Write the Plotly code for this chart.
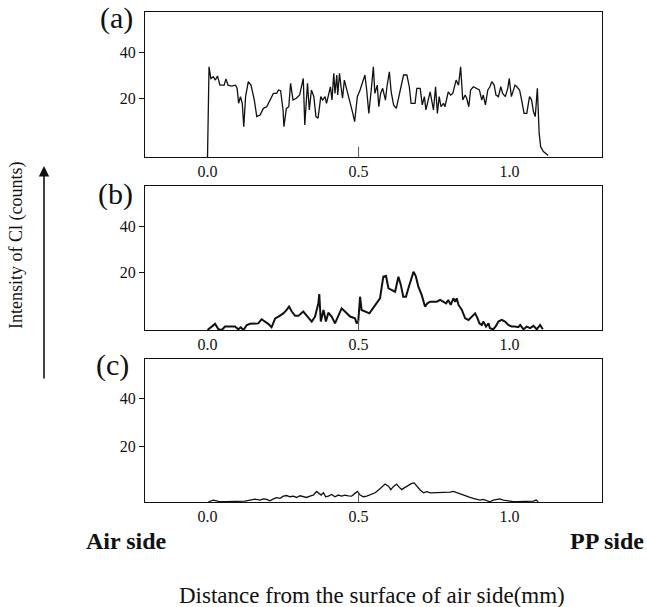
import plotly.graph_objects as go

# ---------------- data ----------------
xa = [0.000, 0.002, 0.005, 0.011, 0.019, 0.026, 0.033, 0.041, 0.055, 0.061, 0.068, 0.079, 0.093, 0.098,
      0.103, 0.109, 0.115, 0.120, 0.126, 0.135, 0.144, 0.155, 0.163, 0.174, 0.185, 0.196, 0.207, 0.218,
      0.229, 0.235, 0.242, 0.250, 0.253, 0.261, 0.269, 0.275, 0.283, 0.294, 0.305, 0.317, 0.322, 0.331,
      0.337, 0.344, 0.352, 0.359, 0.366, 0.375, 0.381, 0.389, 0.394, 0.401, 0.407, 0.412, 0.418, 0.422,
      0.428, 0.431, 0.437, 0.442, 0.447, 0.453, 0.462, 0.469, 0.481, 0.487, 0.496, 0.505, 0.513, 0.521,
      0.527, 0.534, 0.543, 0.549, 0.554, 0.562, 0.567, 0.573, 0.580, 0.589, 0.594, 0.602, 0.608, 0.616,
      0.625, 0.633, 0.640, 0.649, 0.660, 0.668, 0.674, 0.687, 0.693, 0.704, 0.711, 0.718, 0.723, 0.731,
      0.737, 0.748, 0.755, 0.761, 0.767, 0.773, 0.781, 0.786, 0.797, 0.805, 0.812, 0.823, 0.831, 0.838,
      0.845, 0.853, 0.858, 0.865, 0.871, 0.880, 0.891, 0.900, 0.908, 0.913, 0.920, 0.928, 0.935, 0.941,
      0.949, 0.955, 0.963, 0.971, 0.977, 0.986, 0.994, 0.999, 1.006, 1.013, 1.018, 1.024, 1.033, 1.040,
      1.048, 1.057, 1.066, 1.073, 1.079, 1.085, 1.092, 1.098, 1.103, 1.112, 1.128]
ya = [-5.6, 23.5, 33.6, 28.5, 29.3, 27.8, 29.6, 25.6, 25.6, 28.3, 25.6, 25.2, 25.6, 24.2,
      17.7, 20.6, 17.7, 7.5, 20.6, 27.1, 25.6, 19.1, 11.9, 12.6, 15.5, 16.2, 19.1, 22.0,
      22.0, 23.5, 23.2, 14.8, 7.5, 15.5, 16.2, 26.4, 19.1, 19.9, 21.3, 28.5, 8.3, 26.4,
      14.8, 23.5, 20.6, 11.9, 11.2, 20.6, 19.1, 20.6, 17.7, 22.0, 24.9, 19.1, 30.7, 22.0,
      30.0, 21.3, 30.7, 24.9, 19.9, 27.8, 23.5, 19.1, 13.3, 9.7, 20.6, 23.5, 26.4, 30.0,
      23.5, 13.3, 24.9, 33.6, 22.0, 25.6, 16.2, 22.0, 24.2, 19.1, 24.9, 31.4, 22.7, 17.0,
      15.5, 20.6, 25.6, 30.0, 30.0, 24.9, 17.7, 17.7, 24.2, 24.2, 17.0, 20.6, 14.8, 19.1,
      22.7, 14.8, 24.9, 13.3, 20.6, 16.2, 17.7, 16.2, 22.7, 21.3, 22.0, 27.8, 25.6, 33.6,
      19.1, 21.3, 19.9, 16.2, 23.5, 24.9, 24.2, 23.5, 19.1, 21.3, 17.0, 23.5, 24.9, 27.1,
      25.6, 21.3, 20.6, 24.9, 22.0, 20.6, 24.2, 28.5, 20.6, 23.5, 25.6, 24.9, 23.5, 19.1,
      13.3, 13.3, 20.6, 19.1, 14.1, 11.9, 24.2, 4.6, -1.2, -3.3, -5.0]

xb = [0.000, 0.014, 0.025, 0.036, 0.047, 0.058, 0.075, 0.091, 0.102, 0.110, 0.119, 0.130, 0.141, 0.157,
      0.168, 0.179, 0.190, 0.201, 0.212, 0.224, 0.235, 0.251, 0.262, 0.270, 0.279, 0.290, 0.301, 0.317,
      0.331, 0.345, 0.356, 0.367, 0.370, 0.375, 0.384, 0.392, 0.400, 0.411, 0.422, 0.433, 0.444, 0.455,
      0.472, 0.488, 0.494, 0.499, 0.505, 0.510, 0.521, 0.536, 0.544, 0.560, 0.571, 0.582, 0.591, 0.599,
      0.610, 0.621, 0.632, 0.640, 0.648, 0.657, 0.665, 0.673, 0.682, 0.690, 0.698, 0.709, 0.720, 0.728,
      0.737, 0.748, 0.759, 0.770, 0.781, 0.790, 0.797, 0.805, 0.814, 0.820, 0.825, 0.831, 0.842, 0.853,
      0.864, 0.875, 0.886, 0.894, 0.900, 0.908, 0.913, 0.922, 0.930, 0.935, 0.946, 0.955, 0.963, 0.974,
      0.985, 0.996, 1.007, 1.018, 1.029, 1.035, 1.046, 1.057, 1.068, 1.079, 1.090, 1.101, 1.110]
yb = [-5.3, -3.8, -2.6, -5.0, -5.3, -3.8, -3.8, -3.8, -5.0, -4.1, -5.3, -3.1, -2.6, -2.6,
      -2.4, -0.6, -1.6, -2.6, -4.1, -0.2, 0.6, 2.0, 3.5, 5.0, 2.8, 0.9, 0.9, 2.8,
      0.6, -1.6, 0.6, 6.4, 10.5, -1.6, 3.5, -1.6, 2.3, 0.6, -2.4, 0.6, 4.2, 2.8,
      0.6, -0.2, -2.4, -1.6, 9.3, 3.5, 2.8, 2.0, 3.5, 6.4, 8.6, 18.1, 18.4, 13.0,
      12.3, 11.5, 18.1, 14.5, 9.3, 9.3, 13.0, 16.7, 20.3, 18.1, 13.7, 10.1, 5.0, 6.4,
      7.1, 7.1, 7.1, 7.9, 7.1, 6.4, 7.9, 5.7, 8.6, 7.1, 8.6, 5.7, 3.5, -0.2,
      -0.9, 0.6, 2.0, -0.2, -2.4, -3.1, -1.6, -3.8, -2.4, -4.5, -5.0, -3.5, -1.6, -0.9,
      -1.6, -3.1, -3.8, -3.8, -4.1, -3.1, -5.0, -3.8, -4.5, -3.5, -5.0, -3.1, -5.0]

xc = [0.003, 0.019, 0.030, 0.041, 0.058, 0.069, 0.086, 0.097, 0.113, 0.124, 0.141, 0.157, 0.174, 0.185,
      0.196, 0.207, 0.218, 0.229, 0.240, 0.251, 0.262, 0.273, 0.284, 0.295, 0.306, 0.317, 0.328, 0.339,
      0.350, 0.361, 0.369, 0.376, 0.384, 0.391, 0.400, 0.411, 0.422, 0.433, 0.444, 0.455, 0.466, 0.477,
      0.488, 0.497, 0.505, 0.516, 0.527, 0.538, 0.555, 0.566, 0.577, 0.588, 0.599, 0.607, 0.615, 0.626,
      0.635, 0.643, 0.654, 0.665, 0.676, 0.684, 0.693, 0.704, 0.715, 0.726, 0.737, 0.748, 0.770, 0.781,
      0.792, 0.803, 0.814, 0.825, 0.836, 0.847, 0.858, 0.869, 0.880, 0.891, 0.902, 0.913, 0.924, 0.935,
      0.946, 0.957, 0.968, 0.979, 0.990, 1.001, 1.013, 1.024, 1.035, 1.046, 1.057, 1.068, 1.079, 1.088,
      1.095]
yc = [-3.3, -2.6, -2.9, -3.3, -3.3, -3.3, -3.3, -3.0, -3.3, -3.0, -2.6, -2.2, -2.6, -2.1,
      -2.3, -2.9, -2.1, -1.6, -1.9, -0.95, -0.7, -1.2, -0.95, -1.5, -0.8, -1.2, -1.5, -0.95,
      -0.5, 1.0, 0.2, -0.5, 0.45, -1.2, -0.95, -0.25, -1.2, -0.5, -0.95, -0.5, -0.8, -0.95,
      0.2, 1.0, -0.5, -1.2, -0.95, -0.5, 0.45, 1.6, 3.0, 4.1, 3.2, 1.8, 3.0, 4.1,
      2.7, 1.8, 2.7, 3.7, 4.4, 4.6, 3.2, 1.6, 0.45, 0.9, 0.45, 0.45, 0.45, 0.7,
      0.45, 0.7, 1.0, 0.45, 0.2, -0.5, -1.2, -1.5, -1.9, -2.3, -2.6, -2.3, -2.9, -3.3,
      -2.6, -2.3, -2.1, -2.6, -2.9, -3.0, -3.3, -3.3, -3.3, -3.2, -3.3, -3.3, -3.0, -2.6,
      -3.3]

x_tickvals = [0.0, 0.5, 1.0]
x_ticktext = ["0.0", "0.5", "1.0"]
y_tickvals = [20, 40]
panel_labels = ["(a)", "(b)", "(c)"]

# ---------------- layout helpers ----------------
W, H = 647, 607
SERIF = "Liberation Serif, Times New Roman, serif"
INK = "#111111"


def px_x(p):
    return p / W


def px_y(p):
    return 1 - p / H


x_domain = [px_x(145), px_x(602)]
x_range = [-0.207, 1.306]
panels = [
    dict(x=xa, y=ya, top=12, bottom=157, yr=[-5.65, 57.4], lw=1.3, lab=(116, 18)),
    dict(x=xb, y=yb, top=186, bottom=330, yr=[-5.3, 57.9], lw=2.0, lab=(115, 194)),
    dict(x=xc, y=yc, top=359, bottom=502, yr=[-3.4, 56.4], lw=1.3, lab=(113, 365)),
]

fig = go.Figure()
layout = dict(
    width=W, height=H,
    margin=dict(l=0, r=0, t=0, b=0),
    paper_bgcolor="white", plot_bgcolor="white",
    showlegend=False,
    font=dict(family=SERIF, color=INK),
    annotations=[], shapes=[],
)

for i, p in enumerate(panels, start=1):
    sfx = "" if i == 1 else str(i)
    fig.add_trace(go.Scatter(
        x=p["x"], y=p["y"], mode="lines",
        line=dict(color=INK, width=p["lw"]),
        xaxis="x" + sfx, yaxis="y" + sfx, hoverinfo="skip",
    ))
    layout["xaxis" + sfx] = dict(
        domain=x_domain, range=x_range, anchor="y" + sfx,
        tickvals=x_tickvals, ticktext=x_ticktext, ticks="",
        showgrid=False, zeroline=False,
        showline=True, linecolor=INK, linewidth=1, mirror=True,
        tickfont=dict(family=SERIF, size=16, color=INK),
    )
    layout["yaxis" + sfx] = dict(
        domain=[px_y(p["bottom"]), px_y(p["top"])], range=p["yr"], anchor="x" + sfx,
        tickvals=y_tickvals, ticks="outside", ticklen=5, tickcolor=INK,
        showgrid=False, zeroline=False,
        showline=True, linecolor=INK, linewidth=1, mirror=True,
        tickfont=dict(family=SERIF, size=16, color=INK),
    )
    # small inside tick mark at the middle tick value
    layout["shapes"].append(dict(
        type="line", xref="x" + sfx, yref="y" + sfx + " domain",
        x0=x_tickvals[1], x1=x_tickvals[1], y0=0, y1=0.07,
        line=dict(color="#555555", width=1),
    ))
    layout["annotations"].append(dict(
        text=panel_labels[i - 1], xref="paper", yref="paper",
        x=px_x(p["lab"][0]), y=px_y(p["lab"][1]),
        xanchor="center", yanchor="middle", showarrow=False,
        font=dict(family=SERIF, size=30, color=INK),
    ))

# side labels
layout["annotations"] += [
    dict(text="<b>Air side</b>", xref="paper", yref="paper", x=px_x(126), y=px_y(541),
         xanchor="center", yanchor="middle", showarrow=False,
         font=dict(family=SERIF, size=24, color=INK)),
    dict(text="<b>PP side</b>", xref="paper", yref="paper", x=px_x(646), y=px_y(541),
         xanchor="right", yanchor="middle", showarrow=False,
         font=dict(family=SERIF, size=24, color=INK)),
    dict(text="Distance from the surface of air side(mm)", xref="paper", yref="paper",
         x=px_x(372), y=px_y(595), xanchor="center", yanchor="middle", showarrow=False,
         font=dict(family=SERIF, size=23, color=INK)),
    dict(text="Intensity of Cl (counts)", xref="paper", yref="paper",
         x=px_x(17), y=px_y(246), xanchor="center", yanchor="middle", showarrow=False,
         textangle=-90, font=dict(family=SERIF, size=18, color=INK)),
    dict(text="", xref="paper", yref="paper", x=px_x(44), y=px_y(166),
         axref="pixel", ayref="pixel", ax=0, ay=214,
         showarrow=True, arrowhead=2, arrowsize=1.3, arrowwidth=1.6, arrowcolor=INK),
]

fig.update_layout(**layout)
fig.write_html("out.html",
               config={"displayModeBar": False},
               post_script="document.body.style.margin='0';document.body.style.padding='0';")
